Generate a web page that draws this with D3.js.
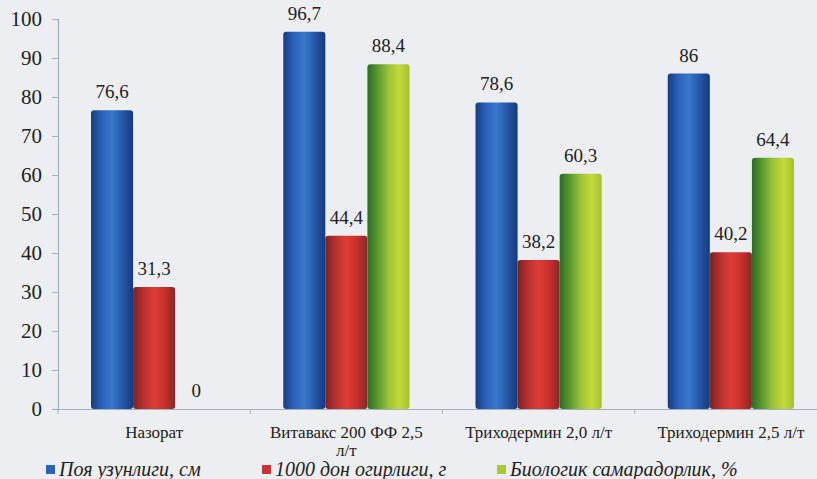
<!DOCTYPE html>
<html><head><meta charset="utf-8">
<script src="https://cdn.jsdelivr.net/npm/d3@7"></script>
</head>
<body style="margin:0;background:#eceef1">
<svg id="c" width="817" height="479"></svg>
<script>
const categories = ["Назорат", "Витавакс 200 ФФ 2,5 л/т", "Триходермин 2,0 л/т", "Триходермин 2,5 л/т"];
const categoryLines = [["Назорат"], ["Витавакс 200 ФФ 2,5", "л/т"], ["Триходермин 2,0 л/т"], ["Триходермин 2,5 л/т"]];
const seriesNames = ["Поя узунлиги, см", "1000 дон огирлиги, г", "Биологик самарадорлик, %"];
const heightValues = [76.6, 96.7, 78.6, 86];
const grainWeightValues = [31.3, 44.4, 38.2, 40.2];
const efficiencyValues = [0, 88.4, 60.3, 64.4];
const valueLabels = [["76,6","96,7","78,6","86"],["31,3","44,4","38,2","40,2"],["0","88,4","60,3","64,4"]];
const yTicks = [0,10,20,30,40,50,60,70,80,90,100];

const FONT = "Liberation Serif";
const series = [heightValues, grainWeightValues, efficiencyValues];
const svg = d3.select("#c").style("display","block");
svg.append("rect").attr("width",817).attr("height",479).attr("fill","#eceef1");
const defs = svg.append("defs");
const grads = [
  ["#173c80","#2a62b8","#3a78cc","#2557a8","#163a7c"],
  ["#7a2222","#b83230","#de3c36","#c8302c","#8a2626"],
  ["#2f6a28","#5a9a30","#9cc238","#c6d83c","#a8c030"]
];
grads.forEach((g,i)=>{
  const lg = defs.append("linearGradient").attr("id","g"+i).attr("x1","0").attr("x2","1").attr("y1","0").attr("y2","0");
  g.forEach((c,j)=>lg.append("stop").attr("offset",(j/(g.length-1)*100)+"%").attr("stop-color",c));
});

const x0 = d3.scaleBand().domain(categories).range([58, 827]).paddingInner(0).paddingOuter(0);
const x1 = d3.scaleBand().domain([0,1,2]).range([33, x0.bandwidth()-33]).padding(0);
const y = d3.scaleLinear().domain([0,100]).range([409, 19]);

// y axis
const ya = svg.append("g").attr("transform","translate(58,0)")
  .call(d3.axisLeft(y).tickValues(yTicks).tickSize(6).tickPadding(10));
ya.attr("font-family",FONT).attr("font-size",21);
ya.select(".domain").attr("stroke","#9fb0c0").attr("stroke-width",1.2);
ya.selectAll(".tick line").attr("stroke","#9fb0c0");
ya.selectAll(".tick text").attr("fill","#222");

// x axis
const xa = svg.append("g").attr("transform","translate(0,409)")
  .call(d3.axisBottom(x0).tickSize(0).tickFormat(""));
xa.select(".domain").attr("stroke","#9fb0c0").attr("stroke-width",1.2);
xa.selectAll(".tick").remove();
const bounds = categories.map(c=>x0(c)).concat([x0(categories[3])+x0.bandwidth()]);
xa.selectAll("line.b").data(bounds).enter().append("line")
  .attr("x1",d=>d).attr("x2",d=>d).attr("y1",0).attr("y2",5).attr("stroke","#9fb0c0");

// bars
series.forEach((vals,si)=>{
  const g = svg.append("g");
  g.selectAll("rect").data(vals).enter().append("rect")
    .attr("x",(d,i)=>x0(categories[i])+x1(si))
    .attr("width",x1.bandwidth())
    .attr("y",d=>y(d))
    .attr("height",d=>y(0)-y(d))
    .attr("rx",3)
    .attr("fill","url(#g"+si+")");
  g.selectAll("text").data(vals).enter().append("text")
    .attr("font-family",FONT)
    .attr("x",(d,i)=>x0(categories[i])+x1(si)+x1.bandwidth()/2)
    .attr("y",d=>y(d)-12)
    .attr("text-anchor","middle")
    .attr("font-size",19).attr("fill","#222")
    .text((d,i)=>valueLabels[si][i]);
});

// category labels
categories.forEach((c,i)=>{
  const cx = x0(c)+x0.bandwidth()/2;
  categoryLines[i].forEach((l,j)=>{
    svg.append("text").attr("font-family",FONT).attr("x",cx).attr("y",438+j*18)
      .attr("text-anchor","middle").attr("font-size",17).attr("fill","#222").text(l);
  });
});

// legend
const legendX = [46, 262, 497];
const legendColors = ["#2a62b8","#d0332f","#a8c838"];
seriesNames.forEach((n,i)=>{
  svg.append("rect").attr("x",legendX[i]).attr("y",465).attr("width",9).attr("height",9).attr("fill",legendColors[i]);
  svg.append("text").attr("font-family",FONT).attr("x",legendX[i]+13).attr("y",476)
    .attr("font-style","italic").attr("font-size",20).attr("fill","#222").text(n);
});
</script></body></html>
